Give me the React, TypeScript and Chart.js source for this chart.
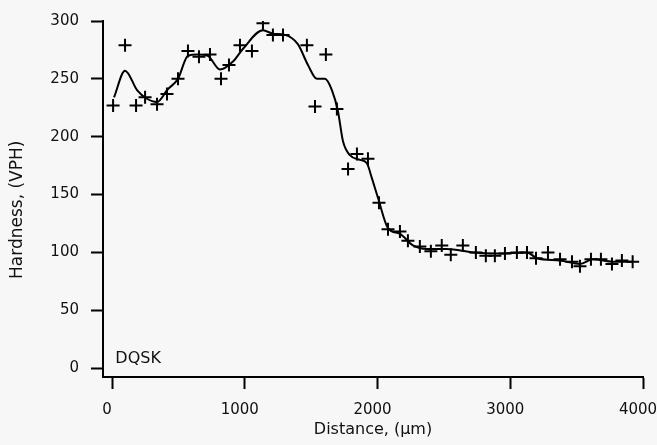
import React, { useEffect, useRef } from "react";
import { Chart, registerables } from "chart.js";

Chart.register(...registerables);

const xTicks = [0, 1000, 2000, 3000, 4000];
const yTicks = [0, 50, 100, 150, 200, 250, 300];

const crossX = [8, 98, 181, 249, 339, 414, 497, 572, 655, 738, 821, 881, 964, 1054, 1137, 1212, 1288, 1468, 1529, 1611, 1694, 1778, 1845, 1928, 2011, 2079, 2169, 2229, 2319, 2402, 2484, 2552, 2643, 2741, 2816, 2884, 2960, 3050, 3126, 3194, 3284, 3375, 3465, 3525, 3608, 3683, 3766, 3841, 3922];
const crossY = [227, 279, 227, 234, 228, 237, 250, 274, 269, 271, 250, 262, 279, 274, 298, 288, 288, 279, 226, 271, 224, 172, 185, 181, 143, 120, 118, 110, 105, 101, 106, 98, 106, 100, 97, 97, 99, 100, 100, 95, 100, 94, 92, 88, 94, 94, 90, 93, 92];

const lineX = [15, 98, 190, 260, 339, 420, 497, 572, 640, 720, 813, 911, 987, 1137, 1212, 1303, 1400, 1476, 1544, 1604, 1657, 1702, 1740, 1792, 1868, 1920, 1958, 2004, 2079, 2169, 2267, 2372, 2523, 2719, 2900, 3126, 3201, 3375, 3525, 3623, 3774, 3924];
const lineY = [234, 257, 240, 233, 230, 241, 250, 270, 271, 270, 258, 265, 276, 292, 289, 288, 280, 262, 250, 250, 240, 222, 196, 184, 180, 177, 164, 147, 121, 116, 106, 103, 103, 100, 99, 100, 95, 93, 90, 94, 92, 92];

const sampleLabel = "DQSK";
const labelPos = { x: 25, y: 8 };

const FONT = "'DejaVu Sans', Verdana, sans-serif";

export default function App() {
  const ref = useRef<HTMLCanvasElement | null>(null);

  useEffect(() => {
    document.body.style.margin = "0";
    const canvas = ref.current;
    if (!canvas) return;

    const labelPlugin = {
      id: "sampleLabel",
      afterDatasetsDraw(chart: any) {
        const { ctx, scales } = chart;
        const px = scales.x.getPixelForValue(labelPos.x);
        const py = scales.y.getPixelForValue(labelPos.y);
        ctx.save();
        ctx.font = `16px ${FONT}`;
        ctx.fillStyle = "#111";
        ctx.textAlign = "left";
        ctx.textBaseline = "middle";
        ctx.fillText(sampleLabel, px, py);
        ctx.restore();
      },
    };

    const chart = new Chart(canvas, {
      type: "scatter",
      data: {
        datasets: [
          {
            data: lineX.map((x, i) => ({ x, y: lineY[i] })),
            showLine: true,
            borderColor: "#000",
            borderWidth: 2,
            pointRadius: 0,
            tension: 0.4,
            cubicInterpolationMode: "monotone",
          } as any,
          {
            data: crossX.map((x, i) => ({ x, y: crossY[i] })),
            showLine: false,
            pointStyle: "cross",
            pointRadius: 6.5,
            borderColor: "#000",
            borderWidth: 2,
          },
        ],
      },
      options: {
        animation: false,
        responsive: false,
        maintainAspectRatio: false,
        layout: { padding: { top: 19, right: 0, left: 0, bottom: 0 } },
        plugins: { legend: { display: false }, tooltip: { enabled: false } },
        scales: {
          x: {
            type: "linear",
            min: -68,
            max: 4000,
            afterBuildTicks: (s: any) => {
              s.ticks = xTicks.map((v) => ({ value: v }));
            },
            afterFit: (s: any) => {
              s.height = 68;
              s.paddingLeft = 0;
              s.paddingRight = 14;
            },
            grid: {
              drawOnChartArea: false,
              drawTicks: true,
              tickLength: 12,
              tickColor: "#000",
              tickWidth: 2,
            },
            border: { display: true, color: "#000", width: 2 },
            ticks: {
              color: "#111",
              font: { family: FONT, size: 15 },
              padding: 12,
              maxRotation: 0,
              labelOffset: -5,
              callback: (v: any) => String(v),
            },
            title: {
              display: true,
              text: "Distance, (µm)",
              color: "#111",
              font: { family: FONT, size: 16 },
              padding: { top: 0, bottom: 6 },
            },
          },
          y: {
            type: "linear",
            min: -7.7,
            max: 300,
            afterBuildTicks: (s: any) => {
              s.ticks = yTicks.map((v) => ({ value: v }));
            },
            afterFit: (s: any) => {
              s.width = 103;
            },
            grid: {
              drawOnChartArea: false,
              drawTicks: true,
              tickLength: 12,
              tickColor: "#000",
              tickWidth: 2,
            },
            border: { display: true, color: "#000", width: 2 },
            ticks: {
              color: "#111",
              font: { family: FONT, size: 15 },
              padding: 12,
              callback: (v: any) => String(v),
            },
            title: {
              display: true,
              text: "Hardness, (VPH)    ",
              color: "#111",
              font: { family: FONT, size: 17 },
              padding: { top: 7, bottom: 0 },
            },
          },
        },
      },
      plugins: [labelPlugin],
    });

    return () => chart.destroy();
  }, []);

  return (
    <div
      style={{
        position: "absolute",
        left: 0,
        top: 0,
        width: 657,
        height: 445,
        background: "#f7f7f7",
      }}
    >
      <canvas ref={ref} width={657} height={445} style={{ width: 657, height: 445 }} />
    </div>
  );
}
